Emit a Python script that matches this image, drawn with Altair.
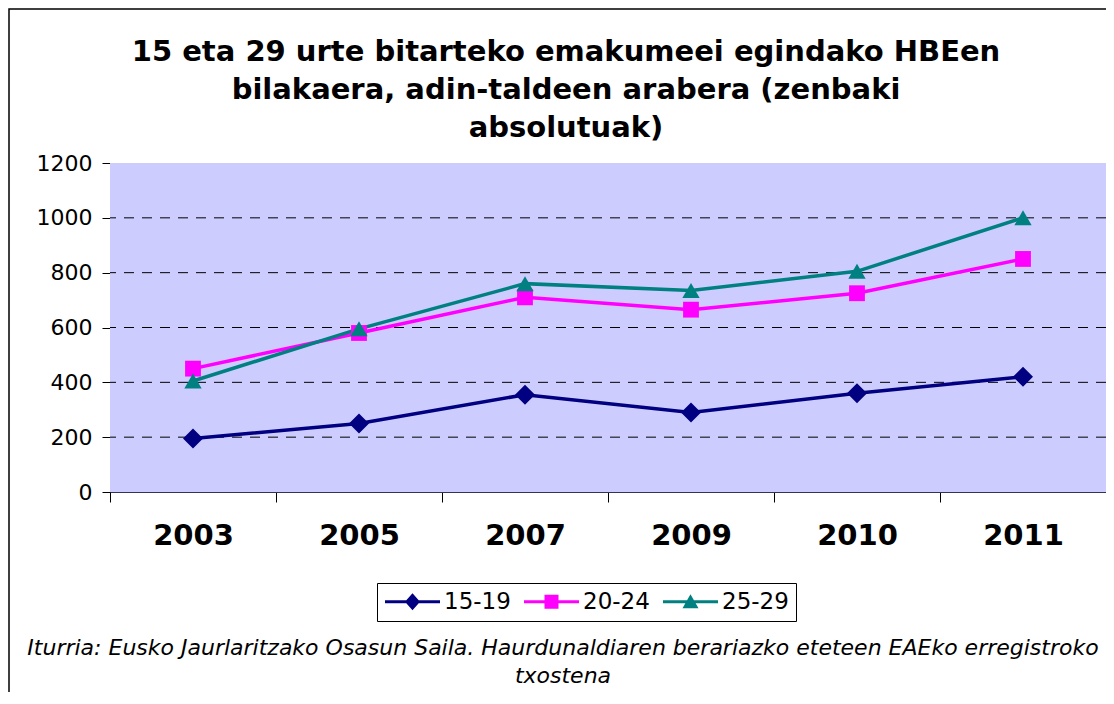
import altair as alt
import pandas as pd

years = ["2003", "2005", "2007", "2009", "2010", "2011"]
series = ["15-19", "20-24", "25-29"]
v1519 = [195, 250, 355, 290, 360, 420]
v2024 = [450, 580, 710, 665, 725, 850]
v2529 = [405, 595, 760, 735, 805, 1000]

colors = ["#000080", "#FF00FF", "#008080"]
marker_shapes = ["diamond", "square", "triangle-up"]
marker_sizes = [400, 250, 300]
legend_paths = [
    "M-2.75,-0.15L-0.62,-0.15L0,-0.85L0.62,-0.15L2.75,-0.15L2.75,0.15L0.62,0.15L0,0.85L-0.62,0.15L-2.75,0.15Z",
    "M-2.75,-0.15L-0.7,-0.15L-0.7,-0.7L0.7,-0.7L0.7,-0.15L2.75,-0.15L2.75,0.15L0.7,0.15L0.7,0.7L-0.7,0.7L-0.7,0.15L-2.75,0.15Z",
    "M-2.75,-0.15L-0.343,-0.15L0,-0.75L0.343,-0.15L2.75,-0.15L2.75,0.15L0.514,0.15L0.8,0.65L-0.8,0.65L-0.514,0.15L-2.75,0.15Z",
]
y_ticks = [0, 200, 400, 600, 800, 1000, 1200]
grid_values = [200, 400, 600, 800, 1000]
title_lines = [
    "15 eta 29 urte bitarteko emakumeei egindako HBEen",
    "bilakaera, adin-taldeen arabera (zenbaki",
    "absolutuak)",
]
footer_text = ("Iturria: Eusko Jaurlaritzako Osasun Saila.  Haurdunaldiaren berariazko eteteen EAEko erregistroko\n"
               "txostena")

rows = []
for s, vals in zip(series, [v1519, v2024, v2529]):
    for yr, v in zip(years, vals):
        rows.append({"year": yr, "group": s, "value": v})
df = pd.DataFrame(rows)

FONT = "DejaVu Sans"
PLOT_BG = "#CCCCFF"
W, H = 996, 329

xenc = alt.X(
    "year:N", sort=years,
    scale=alt.Scale(type="band", domain=years, paddingInner=0, paddingOuter=0),
    axis=alt.Axis(title=None, labelAngle=0, tickBand="extent", tickSize=10,
                  tickColor="#000000", domainColor="#333355", labelFont=FONT,
                  labelFontSize=29, labelFontWeight="bold", labelColor="#000000",
                  labelPadding=19, grid=False),
)
yscale = alt.Scale(domain=[0, 1200], nice=False, zero=True)
yenc = alt.Y(
    "value:Q", scale=yscale,
    axis=alt.Axis(title=None, values=y_ticks, format="d", tickSize=8, tickColor="#000000",
                  domainColor="#000000", labelFont=FONT, labelFontSize=22,
                  labelColor="#000000", labelPadding=10, grid=False),
)
color_scale = alt.Scale(domain=series, range=colors)

base = alt.Chart(df)

one = pd.DataFrame({"k": [0]})
plot_bg = alt.Chart(one).mark_rect(fill=PLOT_BG, strokeWidth=0).encode(
    x=alt.value(0), x2=alt.value(W), y=alt.value(0), y2=alt.value(H)
)
frame = alt.Chart(one).mark_rect(
    fill="#000000", fillOpacity=0, stroke="#000000", strokeWidth=1.5
).encode(x=alt.value(-101), x2=alt.value(1400), y=alt.value(-154), y2=alt.value(1000))

grid = alt.Chart(pd.DataFrame({"value": grid_values})).mark_rule(
    color="#000000", strokeDash=[10, 8], strokeWidth=1
).encode(y=yenc)

leg = alt.Legend(title=None, orient="none", legendX=267, legendY=420,
                 direction="horizontal", strokeColor="#000000", fillColor="#FFFFFF",
                 padding=7, labelFont=FONT, labelFontSize=23, labelColor="#000000",
                 symbolSize=400, symbolOffset=17, labelOffset=20, columnPadding=12)
legend_layer = base.transform_filter("false").mark_point(filled=True, opacity=1).encode(
    color=alt.Color("group:N", scale=color_scale, legend=leg),
    shape=alt.Shape("group:N", scale=alt.Scale(domain=series, range=legend_paths), legend=leg),
)

lines = []
markers = []
for s, c, sh, sz in zip(series, colors, marker_shapes, marker_sizes):
    sub = base.transform_filter(alt.datum.group == s)
    lines.append(sub.mark_line(strokeWidth=3.5, color=c).encode(x=xenc, y=yenc))
    markers.append(
        sub.mark_point(shape=sh, filled=True, size=sz, color=c, opacity=1).encode(x=xenc, y=yenc)
    )

footer = alt.Chart(pd.DataFrame({"t": [footer_text]})).mark_text(
    font=FONT, fontSize=22, fontStyle="italic", align="center", baseline="alphabetic",
    lineBreak="\n", lineHeight=28, color="#000000"
).encode(text="t:N", x=alt.value(453), y=alt.value(492))

chart = alt.layer(plot_bg, frame, grid, legend_layer, *lines, *markers, footer).properties(
    width=W, height=H,
    padding={"left": 102, "top": 155, "right": 0, "bottom": 200},
    autosize=alt.AutoSizeParams(type="none"),
    background="#FFFFFF",
    title=alt.TitleParams(text=title_lines, font=FONT, fontSize=29, fontWeight="bold",
                          color="#000000", anchor="middle", frame="group", dx=-42,
                          offset=-135, lineHeight=38),
).configure_view(fill=PLOT_BG, stroke=None)

chart.save("out.html", embed_options={"renderer": "svg", "actions": False})
